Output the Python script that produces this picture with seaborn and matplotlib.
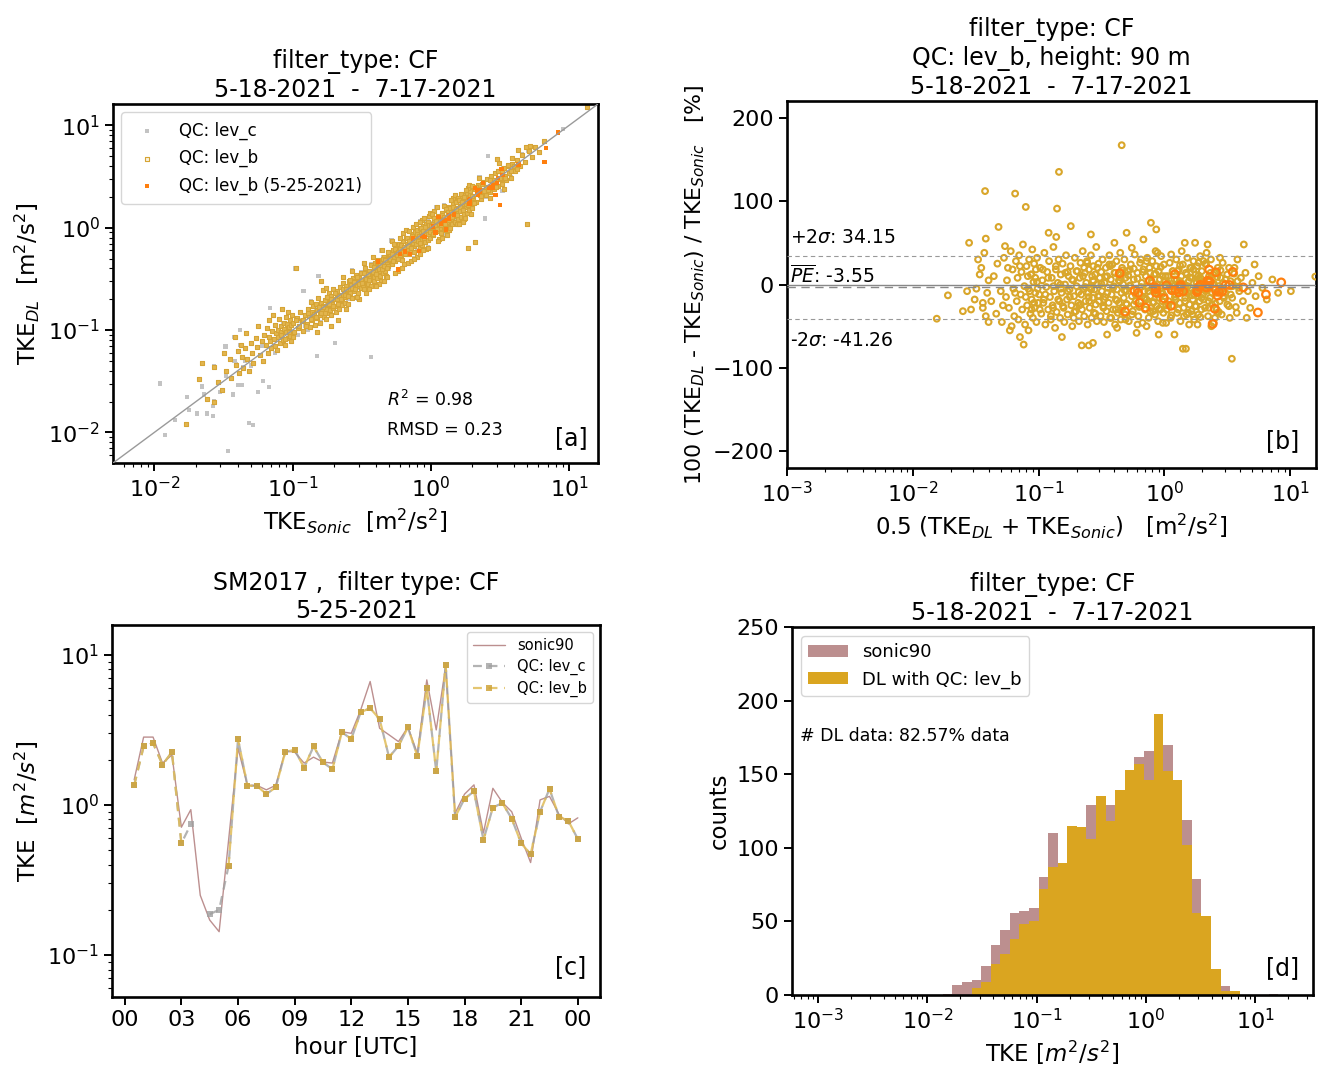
import numpy as np
import pandas as pd
import matplotlib
matplotlib.use("Agg")
import matplotlib.pyplot as plt
import matplotlib.transforms as mtransforms
from matplotlib.patches import Patch
import seaborn as sns

# ---------------------------------------------------------------- data
# panel [a]: TKE_Sonic vs TKE_DL, QC lev_b (pairs sonic, DL)
a_levb_sonic = [
    0.017, 0.021, 0.022, 0.024, 0.027, 0.027, 0.029, 0.031,
    0.032, 0.033, 0.035, 0.036, 0.038, 0.039, 0.040, 0.041, 0.042, 0.043, 0.044, 0.045, 0.046, 0.047, 0.048,
    0.050, 0.051, 0.052, 0.054, 0.055, 0.056, 0.058, 0.060, 0.061, 0.062,
    0.064, 0.065, 0.066, 0.067, 0.068, 0.069, 0.070, 0.071, 0.072, 0.073, 0.074, 0.075, 0.076, 0.077, 0.078,
    0.079, 0.080, 0.081, 0.082, 0.083, 0.084, 0.085, 0.086, 0.087, 0.088, 0.089, 0.090, 0.091, 0.092, 0.093,
    0.094, 0.095, 0.096, 0.097, 0.098, 0.099, 0.101, 0.103, 0.105, 0.107, 0.110, 0.113, 0.116, 0.119, 0.123,
    0.127, 0.129, 0.131, 0.133, 0.135, 0.137, 0.139, 0.141, 0.143, 0.145, 0.147, 0.149, 0.151, 0.153, 0.155,
    0.157, 0.159, 0.161, 0.163, 0.165, 0.167, 0.169, 0.171, 0.173, 0.175, 0.177, 0.179, 0.181, 0.183, 0.185,
    0.187, 0.189, 0.191, 0.193, 0.195, 0.197, 0.199, 0.202, 0.205, 0.208, 0.211, 0.214, 0.217, 0.220, 0.223,
    0.226, 0.229, 0.232, 0.235, 0.238, 0.241, 0.244, 0.247, 0.212, 0.160, 0.190, 0.230, 0.175, 0.245, 0.150,
    0.252, 0.256, 0.260, 0.264, 0.268, 0.272, 0.276, 0.280, 0.284, 0.288, 0.292, 0.296, 0.300, 0.305, 0.310,
    0.315, 0.320, 0.325, 0.330, 0.335, 0.340, 0.345, 0.350, 0.355, 0.360, 0.365, 0.370, 0.375, 0.380, 0.385,
    0.390, 0.395, 0.400, 0.405, 0.410, 0.415, 0.420, 0.425, 0.430, 0.435, 0.440, 0.445, 0.450, 0.455, 0.460,
    0.465, 0.470, 0.475, 0.480, 0.485, 0.490, 0.495, 0.300, 0.340, 0.420, 0.270, 0.380, 0.460, 0.330, 0.250,
    0.480, 0.360, 0.290, 0.440, 0.400,
    0.50, 0.51, 0.52, 0.53, 0.54, 0.55, 0.56, 0.57, 0.58, 0.59, 0.60, 0.61, 0.62, 0.63, 0.64, 0.65, 0.66,
    0.67, 0.68, 0.69, 0.70, 0.71, 0.72, 0.73, 0.74, 0.75, 0.76, 0.77, 0.78, 0.79, 0.80, 0.81, 0.82, 0.83,
    0.84, 0.85, 0.86, 0.87, 0.88, 0.89, 0.90, 0.91, 0.92, 0.93, 0.94, 0.95, 0.96, 0.97, 0.98, 0.99, 0.52,
    0.58, 0.63, 0.68, 0.74, 0.80, 0.86, 0.92, 0.97, 0.55, 0.66, 0.72, 0.78, 0.84, 0.90, 0.95, 0.60, 0.70,
    0.62, 0.88, 0.76, 0.54, 0.99, 0.83, 0.64,
    1.00, 1.02, 1.04, 1.06, 1.08, 1.10, 1.12, 1.14, 1.16, 1.18, 1.20, 1.22, 1.24, 1.26, 1.28, 1.30, 1.32,
    1.34, 1.36, 1.38, 1.40, 1.42, 1.44, 1.46, 1.48, 1.50, 1.52, 1.54, 1.56, 1.58, 1.60, 1.62, 1.64, 1.66,
    1.68, 1.70, 1.72, 1.74, 1.76, 1.78, 1.80, 1.82, 1.84, 1.86, 1.88, 1.90, 1.92, 1.94, 1.96, 1.98, 1.05,
    1.15, 1.25, 1.35, 1.45, 1.55, 1.65, 1.75, 1.85, 1.95, 1.10, 1.30, 1.50, 1.70, 1.90, 1.20, 1.40, 1.60,
    1.80, 1.12, 1.38, 1.58, 1.78, 1.98, 1.02, 1.87, 2.10,
    2.02, 2.08, 2.14, 2.20, 2.26, 2.32, 2.38, 2.44, 2.50, 2.56, 2.62, 2.68, 2.74, 2.80, 2.86, 2.92, 2.98,
    3.05, 3.12, 3.20, 3.28, 3.36, 3.44, 3.52, 3.60, 3.70, 3.80, 3.90, 2.25, 2.70, 3.10, 3.40, 3.85, 3.00,
    4.05, 4.20, 4.40, 4.60, 4.80, 5.00, 5.10, 5.40, 5.70, 6.10, 4.30, 6.60, 4.90, 5.20, 13.5,
]
a_levb_dl = [
    0.012, 0.033, 0.048, 0.021, 0.044, 0.020, 0.031, 0.026,
    0.059, 0.040, 0.052, 0.034, 0.085, 0.046, 0.062, 0.038, 0.071, 0.055, 0.043, 0.066, 0.094, 0.052, 0.040,
    0.075, 0.060, 0.048, 0.083, 0.068, 0.110, 0.057, 0.078, 0.050, 0.090,
    0.071, 0.105, 0.060, 0.086, 0.125, 0.078, 0.066, 0.098, 0.140, 0.082, 0.070, 0.112, 0.093, 0.064, 0.101,
    0.085, 0.128, 0.074, 0.110, 0.095, 0.160, 0.080, 0.118, 0.102, 0.072, 0.135, 0.096, 0.115, 0.083, 0.150,
    0.106, 0.088, 0.125, 0.112, 0.078, 0.140, 0.118, 0.095, 0.400, 0.130, 0.105, 0.150, 0.122, 0.098, 0.140,
    0.115, 0.160, 0.138, 0.108, 0.190, 0.150, 0.125, 0.170, 0.135, 0.112, 0.180, 0.158, 0.130, 0.205, 0.165,
    0.140, 0.118, 0.185, 0.152, 0.245, 0.170, 0.135, 0.195, 0.160, 0.128, 0.210, 0.175, 0.148, 0.230, 0.188,
    0.158, 0.140, 0.215, 0.180, 0.165, 0.250, 0.200, 0.172, 0.150, 0.240, 0.205, 0.180, 0.160, 0.265, 0.220,
    0.195, 0.175, 0.290, 0.240, 0.210, 0.185, 0.270, 0.225, 0.125, 0.300, 0.110, 0.330, 0.260, 0.160, 0.095,
    0.250, 0.300, 0.228, 0.275, 0.205, 0.320, 0.262, 0.240, 0.300, 0.345, 0.270, 0.230, 0.320, 0.285, 0.260,
    0.365, 0.305, 0.275, 0.250, 0.400, 0.330, 0.300, 0.280, 0.380, 0.340, 0.310, 0.270, 0.430, 0.360, 0.330,
    0.300, 0.450, 0.385, 0.350, 0.320, 0.480, 0.410, 0.375, 0.340, 0.300, 0.450, 0.400, 0.365, 0.520, 0.440,
    0.410, 0.375, 0.340, 0.500, 0.455, 0.420, 0.560, 0.200, 0.230, 0.280, 0.380, 0.520, 0.300, 0.450, 0.180,
    0.330, 0.250, 0.210, 0.600, 0.270,
    0.48, 0.56, 0.44, 0.60, 0.52, 0.47, 0.66, 0.58, 0.50, 0.70, 0.62, 0.54, 0.48, 0.74, 0.65, 0.58, 0.80,
    0.70, 0.62, 0.55, 0.78, 0.68, 0.60, 0.86, 0.75, 0.66, 0.58, 0.90, 0.80, 0.70, 0.95, 0.84, 0.74, 0.64,
    1.00, 0.88, 0.78, 0.68, 1.05, 0.93, 0.82, 0.72, 1.10, 0.98, 0.86, 0.76, 1.15, 1.02, 0.90, 0.80, 0.75,
    0.38, 0.88, 0.45, 1.02, 0.52, 1.20, 0.62, 1.30, 0.36, 0.95, 0.47, 1.08, 0.56, 1.25, 0.64, 0.80, 0.92,
    0.40, 0.60, 0.50, 0.70, 1.38, 1.15, 0.44,
    0.94, 1.10, 0.85, 1.20, 1.02, 0.92, 1.30, 1.12, 1.00, 0.88, 1.40, 1.20, 1.08, 0.95, 1.50, 1.28, 1.15,
    1.02, 1.60, 1.38, 1.22, 1.08, 1.70, 1.45, 1.30, 1.15, 1.78, 1.55, 1.38, 1.22, 1.88, 1.62, 1.45, 1.28,
    1.98, 1.72, 1.52, 1.35, 2.08, 1.80, 1.60, 1.40, 2.20, 1.90, 1.68, 1.48, 2.30, 2.00, 1.75, 1.55, 1.45,
    0.78, 1.65, 0.95, 1.95, 1.08, 2.15, 1.22, 2.45, 1.35, 1.60, 0.85, 2.10, 1.15, 2.60, 0.80, 1.85, 1.10,
    2.35, 0.74, 1.00, 1.95, 1.25, 2.55, 1.35, 0.63, 0.73,
    1.95, 2.40, 1.80, 2.60, 2.10, 1.90, 2.80, 2.35, 2.10, 3.00, 2.50, 2.25, 3.20, 2.65, 2.40, 3.40, 2.85,
    2.55, 3.60, 3.00, 2.70, 3.85, 3.20, 2.90, 4.00, 3.40, 3.10, 4.20, 3.10, 1.95, 4.30, 2.40, 4.80, 4.70,
    3.60, 4.60, 4.00, 5.20, 4.40, 1.08, 5.60, 4.90, 6.20, 5.50, 5.80, 7.00, 6.10, 6.30, 15.0,
]
# dense core of the lev_b cloud along the 1:1 line
a_core_sonic = [
    0.082, 0.088, 0.094, 0.100, 0.106, 0.112, 0.118, 0.124, 0.130, 0.136, 0.142, 0.148, 0.154, 0.160,
    0.166, 0.172, 0.178, 0.184, 0.190, 0.196, 0.203, 0.210, 0.217, 0.224, 0.231, 0.238, 0.245, 0.252,
    0.260, 0.268, 0.276, 0.284, 0.292, 0.300, 0.310, 0.320, 0.330, 0.340, 0.350, 0.360, 0.370, 0.380,
    0.390, 0.400, 0.410, 0.420, 0.430, 0.440, 0.450, 0.460, 0.470, 0.480, 0.490, 0.505, 0.520, 0.535,
    0.550, 0.565, 0.580, 0.595, 0.610, 0.625, 0.640, 0.655, 0.670, 0.685, 0.700, 0.715, 0.730, 0.745,
    0.760, 0.775, 0.790, 0.805, 0.820, 0.835, 0.850, 0.865, 0.880, 0.895, 0.910, 0.925, 0.940, 0.955,
    0.970, 0.985, 1.01, 1.03, 1.05, 1.07, 1.09, 1.11, 1.13, 1.15, 1.17, 1.19, 1.21, 1.23, 1.25, 1.27,
    1.29, 1.31, 1.33, 1.35, 1.37, 1.39, 1.41, 1.43, 1.45, 1.47, 1.51, 1.55, 1.59, 1.63, 1.67, 1.71,
    1.75, 1.79, 1.83, 1.87, 1.91, 1.95, 2.00, 2.06, 2.12, 2.18, 2.24, 2.30, 2.36, 2.42, 2.50, 2.58,
    2.66, 2.75, 2.85, 2.95, 3.05, 3.15, 3.30, 3.45, 3.60, 3.80, 4.00, 4.20,
]
a_core_dl = [
    0.090, 0.081, 0.096, 0.085, 0.125, 0.109, 0.125, 0.109, 0.147, 0.129, 0.142, 0.133, 0.169, 0.147,
    0.169, 0.146, 0.210, 0.178, 0.201, 0.172, 0.229, 0.200, 0.217, 0.202, 0.254, 0.219, 0.250, 0.214,
    0.307, 0.260, 0.293, 0.250, 0.330, 0.285, 0.310, 0.288, 0.363, 0.313, 0.357, 0.306, 0.437, 0.369,
    0.413, 0.352, 0.463, 0.399, 0.430, 0.396, 0.495, 0.423, 0.479, 0.408, 0.578, 0.490, 0.551, 0.471,
    0.622, 0.537, 0.580, 0.536, 0.671, 0.575, 0.653, 0.557, 0.791, 0.664, 0.742, 0.629, 0.825, 0.708,
    0.760, 0.698, 0.869, 0.741, 0.836, 0.710, 1.003, 0.839, 0.933, 0.788, 1.028, 0.879, 0.940, 0.860,
    1.067, 0.906, 1.030, 0.876, 1.239, 1.038, 1.155, 0.977, 1.277, 1.093, 1.170, 1.071, 1.331, 1.132,
    1.275, 1.080, 1.522, 1.271, 1.410, 1.188, 1.548, 1.321, 1.410, 1.287, 1.595, 1.352, 1.540, 1.318,
    1.876, 1.581, 1.770, 1.505, 1.978, 1.701, 1.830, 1.683, 2.101, 1.794, 2.040, 1.751, 2.502, 2.115,
    2.374, 2.024, 2.667, 2.299, 2.500, 2.322, 2.926, 2.530, 2.907, 2.508, 3.599, 3.056, 3.498, 3.036,
    4.068, 3.610, 4.000, 3.780,
]
# points that pass only QC lev_c (grey)
a_levc_sonic = [
    0.011, 0.0119, 0.014, 0.0171, 0.0178, 0.0204, 0.024, 0.0228, 0.0267, 0.0267, 0.034, 0.048, 0.052,
    0.037, 0.0327, 0.0416, 0.033, 0.040, 0.043, 0.056, 0.067, 0.061, 0.069, 0.091, 0.12, 0.150, 0.154,
    0.204, 0.27, 0.369, 2.47, 3.30, 2.60, 9.1, 0.045, 0.050, 0.060, 0.075, 0.090, 0.11, 0.13, 0.16,
    0.20, 0.25, 0.50, 0.80, 1.30, 2.50, 3.50, 0.022, 0.030, 0.038,
]
a_levc_dl = [
    0.030, 0.0095, 0.0132, 0.022, 0.0166, 0.0153, 0.0153, 0.0234, 0.018, 0.0144, 0.0066, 0.0123, 0.0118,
    0.0234, 0.069, 0.101, 0.036, 0.029, 0.029, 0.025, 0.0275, 0.032, 0.164, 0.101, 0.24, 0.056, 0.34,
    0.075, 0.39, 0.054, 1.23, 2.30, 5.00, 9.3, 0.050, 0.045, 0.070, 0.060, 0.070, 0.090, 0.100, 0.120,
    0.160, 0.200, 0.40, 0.60, 1.10, 2.00, 3.00, 0.028, 0.025, 0.050,
]
a_r2_text = "$R^2$ = 0.98"
a_rmsd_text = "RMSD = 0.23"

# panel [b]: mean TKE vs percentage error (QC lev_b)
b_mean = [
    0.0155, 0.019, 0.025, 0.029, 0.028, 0.032, 0.034, 0.036, 0.038, 0.0375, 0.033, 0.039, 0.031, 0.036,
    0.040, 0.038, 0.027, 0.035, 0.040, 0.037,
    0.048, 0.054, 0.065, 0.079, 0.071, 0.076, 0.042, 0.044, 0.046, 0.047, 0.050, 0.051, 0.053, 0.055,
    0.056, 0.058, 0.060, 0.061, 0.062, 0.063, 0.064, 0.066, 0.067, 0.068, 0.069, 0.070, 0.072, 0.073,
    0.074, 0.075, 0.077, 0.078, 0.080, 0.081, 0.082, 0.083, 0.084, 0.085, 0.086, 0.087, 0.088, 0.089,
    0.090, 0.091, 0.092, 0.093, 0.094, 0.095, 0.096, 0.097, 0.098, 0.099, 0.052, 0.057, 0.059, 0.065,
    0.071, 0.079, 0.088, 0.094,
    0.145, 0.140, 0.138, 0.153, 0.220, 0.250, 0.270, 0.120, 0.180, 0.260,
    0.101, 0.103, 0.105, 0.107, 0.109, 0.111, 0.113, 0.115, 0.117, 0.119, 0.121, 0.123, 0.125, 0.127,
    0.129, 0.131, 0.133, 0.135, 0.137, 0.139, 0.142, 0.144, 0.146, 0.148, 0.150, 0.152, 0.155, 0.158,
    0.160, 0.162, 0.165, 0.168, 0.170, 0.173, 0.176, 0.179, 0.182, 0.185, 0.188, 0.191, 0.194, 0.197,
    0.200, 0.203, 0.206, 0.209, 0.212, 0.215, 0.218, 0.221, 0.224, 0.227, 0.230, 0.233, 0.236, 0.239,
    0.242, 0.245, 0.248, 0.251, 0.254, 0.257, 0.260, 0.263, 0.266, 0.269, 0.272, 0.275, 0.278, 0.281,
    0.284, 0.287, 0.290, 0.293, 0.296, 0.299, 0.110, 0.130, 0.150, 0.170, 0.190, 0.210, 0.230, 0.250, 0.270,
    0.457, 0.78, 0.86, 0.68, 0.35, 0.60, 0.50, 0.90, 0.40,
    0.302, 0.306, 0.310, 0.314, 0.318, 0.322, 0.326, 0.330, 0.334, 0.338, 0.342, 0.346, 0.350, 0.355,
    0.360, 0.365, 0.370, 0.375, 0.380, 0.385, 0.390, 0.395, 0.400, 0.405, 0.410, 0.415, 0.420, 0.425,
    0.430, 0.435, 0.440, 0.445, 0.450, 0.455, 0.460, 0.465, 0.470, 0.475, 0.480, 0.485, 0.490, 0.495,
    0.50, 0.51, 0.52, 0.53, 0.54, 0.55, 0.56, 0.57, 0.58, 0.59, 0.60, 0.61, 0.62, 0.63, 0.64, 0.65,
    0.66, 0.67, 0.68, 0.69, 0.70, 0.71, 0.72, 0.73, 0.74, 0.75, 0.76, 0.77, 0.78, 0.79, 0.80, 0.81,
    0.82, 0.83, 0.84, 0.85, 0.86, 0.87, 0.88, 0.89, 0.90, 0.91, 0.92, 0.93, 0.94, 0.95, 0.96, 0.97,
    0.98, 0.99, 0.33, 0.37, 0.41, 0.45, 0.49, 0.53, 0.57, 0.61, 0.65, 0.69, 0.73, 0.77, 0.81, 0.85,
    0.89, 0.93, 0.97, 0.42, 0.55, 0.72, 0.88,
    1.45, 1.75, 1.40, 1.48, 2.20, 1.20,
    1.00, 1.02, 1.04, 1.06, 1.08, 1.10, 1.12, 1.14, 1.16, 1.18, 1.20, 1.22, 1.24, 1.26, 1.28, 1.30,
    1.32, 1.34, 1.36, 1.38, 1.40, 1.42, 1.44, 1.46, 1.48, 1.50, 1.52, 1.54, 1.56, 1.58, 1.60, 1.62,
    1.64, 1.66, 1.68, 1.70, 1.72, 1.74, 1.76, 1.78, 1.80, 1.82, 1.84, 1.86, 1.88, 1.90, 1.92, 1.94,
    1.96, 1.98, 2.02, 2.06, 2.10, 2.14, 2.18, 2.22, 2.26, 2.30, 2.34, 2.38, 2.42, 2.46, 2.50, 2.55,
    2.60, 2.65, 2.70, 2.75, 2.80, 2.85, 2.90, 2.95, 1.03, 1.13, 1.23, 1.33, 1.43, 1.53, 1.63, 1.73,
    1.83, 1.93, 2.04, 2.24, 2.44, 2.64, 2.84, 1.07, 1.27, 1.47, 1.67, 1.87, 2.12, 2.52, 2.92, 1.17,
    1.57, 1.97, 2.36, 2.76, 1.37, 2.16,
    3.43, 4.27, 10.1, 3.05, 3.15, 3.25, 3.35, 3.45, 3.60, 3.75, 3.90, 4.05, 4.20, 4.40, 4.60, 4.80,
    5.00, 5.30, 5.60, 6.00, 6.50, 7.20, 8.00, 3.30, 3.80, 4.50, 5.20, 15.8,
    # dense core
    0.083, 0.087, 0.092, 0.097, 0.102, 0.108, 0.113, 0.119, 0.125, 0.131, 0.137, 0.143, 0.149, 0.156,
    0.163, 0.170, 0.177, 0.184, 0.192, 0.200, 0.208, 0.216, 0.225, 0.234, 0.243, 0.252, 0.262, 0.272,
    0.282, 0.293, 0.304, 0.315, 0.327, 0.339, 0.351, 0.364, 0.377, 0.391, 0.405, 0.419, 0.434, 0.449,
    0.465, 0.481, 0.498, 0.515, 0.533, 0.551, 0.570, 0.590, 0.610, 0.631, 0.652, 0.674, 0.697, 0.720,
    0.744, 0.769, 0.795, 0.821, 0.848, 0.876, 0.905, 0.935, 0.966, 0.998, 1.03, 1.065, 1.10, 1.135,
    1.17, 1.21, 1.25, 1.29, 1.33, 1.37, 1.415, 1.46, 1.505, 1.55, 1.60, 1.65, 1.70, 1.755, 1.81, 1.865,
    1.925, 1.985, 2.05, 2.11, 2.18, 2.25, 2.32, 2.39, 2.465, 2.54, 2.62, 2.70, 2.79, 2.88, 2.97, 3.06,
    3.16, 3.26, 3.36, 3.47, 3.58, 3.69, 3.81, 3.93,
]
b_pe = [
    -41, -13, -32, -30, 50, -5, 12, -22, 55, 112, 30, -10, -18, -28, 5, -38, -8, 20, -45, 38,
    69, 46, 109, 93, -63, -72, -20, 10, -35, 25, -8, -45, 32, -15, 5, -28, 40, -50, 18, -5, -38, 28,
    -20, 8, -42, 35, -12, 15, -30, 48, -2, -48, 22, -25, 10, -55, 30, -8, -35, 12, -18, 42, -40, 3,
    25, -28, -10, 18, -45, 32, -5, -22, -25, 20, -55, -10, 22, -15, -30, 8,
    135, 91, 57, -63, -73, -73, -70, 62, 70, 60,
    -12, 20, -35, 5, -22, 38, -48, -3, 15, -30, 28, -15, -42, 8, -25, 45, -8, -52, 18, -33, 2, 30,
    -20, -40, 12, -10, 25, -28, -45, 0, 35, -18, -36, 10, -6, 22, -25, -50, 5, -14, 32, -32, -2, 16,
    -22, -44, 8, 26, -12, -30, 40, -5, -38, 14, -20, 2, 28, -48, -10, 18, -28, -3, 35, -40, 10, -16,
    22, -34, -6, 12, -24, 45, -44, 0, -14, 25, -18, -28, -5, 15, -40, -25, 20, -15, 5,
    167, 74, 66, 54, -60, -58, 62, -60, 50,
    -20, 8, -38, 15, -8, 30, -26, -45, 2, -15, 20, -32, 10, -4, -22, 35, -40, 6, -12, 24, -30, -2,
    14, -48, -18, 28, -6, -34, 12, -22, 4, 38, -42, -10, 20, -28, 0, -16, 30, -36, 8, -8,
    -24, 16, -44, -2, 24, -14, -32, 6, 36, -20, -6, 14, -38, -12, 26, -26, 2, -46, 18, -8, -30, 10,
    -18, 32, -4, -40, 20, -14, -28, 4, 28, -22, -6, 12, -36, -10, 22, -26, 0, -44, 16, -16, 6, -30,
    34, -8, -20, 10, -34, 24, -18, 22, -30, 8, -42, 18, -24, -48, 30, -16, -2, 14, -32, 40, -12, -4,
    -46, -52, 44, -50, 38,
    50, 50, -77, -77, 48, -60,
    -14, 10, -30, 2, -20, 26, -40, -6, 16, -26, 6, -12, 30, -34, -2, 18, -22, -44, 10, -8, 24, -28,
    0, -16, 14, -36, 32, -10, 4, -24, 20, -4, -32, 8, -18, 28, -42, -8, 12, -26, 2, 22, -14, -36, 6,
    -20, 34, -6, -30, 16, -12, 4, -28, 24, -4, -38, 10, -16, 30, -24, 0, -46, 14, -10, -30, 20, -2,
    -20, 8, -36, 26, -14, -46, 36, -18, 4, -38, -2, 20, -12, -48, 8, 28, -20, 12, -34, -6, -24, 16,
    -10, -36, 26, -8, -40, 2, -2, -48, -16, -50, 32, 40, 38,
    -89, 48, -8, -10, 12, -26, 4, -16, 20, -34, -4, 8, -20, 14, -8, -28, 2, -14, 10, -4, -18, 6, -10,
    -40, 30, -40, 24, 9.5,
    # dense core
    -5, 12, -22, 3, -30, 18, -12, 8, -38, -2, 22, -18, 0, -26, 14, -8,
    -15, 6, -33, 16, -9, -24, 10, -3, 26, -20, -6, 4, -35, 20, -14, 1,
    -28, 9, -10, 24, -40, -4, 14, -19, 5, -31, 17, -7, -23, 11, -1, -36,
    19, -12, 7, -27, -3, 15, -17, 28, -8, -32, 2, -21, 13, -6, -29, 21,
    -11, 4, -25, 10, -2, -37, 16, -15, 6, -30, 23, -9, 0, -20, 12, -34,
    8, -13, 18, -26, -4, 11, -39, 3, -18, 25, -7, -28, 14, -10, 1, -23,
    9, -33, 17, -5, -16, 6, -24, 20, -12, -2, 13, -27, 4, -8,
]
b_plus2sigma = 34.15
b_mean_pe = -3.55
b_minus2sigma = -41.26

# panel [c]: 5-25-2021 time series, 30-min values (hour of day)
c_hour = [0.5, 1.0, 1.5, 2.0, 2.5, 3.0, 3.5, 4.0, 4.5, 5.0, 5.5, 6.0, 6.5, 7.0, 7.5, 8.0,
          8.5, 9.0, 9.5, 10.0, 10.5, 11.0, 11.5, 12.0, 12.5, 13.0, 13.5, 14.0, 14.5, 15.0, 15.5, 16.0,
          16.5, 17.0, 17.5, 18.0, 18.5, 19.0, 19.5, 20.0, 20.5, 21.0, 21.5, 22.0, 22.5, 23.0, 23.5, 24.0]
c_sonic = [1.47, 2.83, 2.83, 1.90, 2.15, 0.71, 0.93, 0.25, 0.171, 0.143, 0.58, 2.39, 1.35, 1.35, 1.26, 1.35,
           2.28, 2.25, 1.90, 2.08, 1.93, 1.90, 3.07, 3.00, 4.30, 6.64, 3.24, 2.93, 2.64, 3.30, 2.20, 6.81,
           3.16, 8.36, 0.88, 1.18, 1.36, 0.65, 1.29, 1.04, 0.90, 0.60, 0.413, 1.08, 1.14, 0.867, 0.747, 0.82]
c_lev_c = [1.35, 2.45, 2.58, 1.85, 2.25, 0.555, 0.743, np.nan, 0.187, 0.200, 0.392, 2.74, 1.34, 1.34, 1.18, 1.31,
           2.25, 2.33, 1.77, 2.45, 1.92, 1.73, 3.05, 2.75, 4.15, 4.41, 3.73, 2.08, 2.47, 3.28, 2.12, 6.00,
           1.67, 8.57, 0.83, 1.10, 1.23, 0.585, 0.96, 1.03, 0.81, 0.555, 0.469, 0.90, 1.28, 0.836, 0.782, 0.593]
c_lev_b = [1.35, 2.45, 2.58, 1.85, 2.25, 0.555, np.nan, np.nan, np.nan, np.nan, 0.392, 2.74, 1.34, 1.34, 1.18, 1.31,
           2.25, 2.33, 1.77, 2.45, 1.92, 1.73, 3.05, 2.75, 4.15, 4.41, 3.73, 2.08, 2.47, 3.28, 2.12, 6.00,
           1.67, 8.57, 0.83, 1.10, 1.23, 0.585, 0.96, 1.03, 0.81, 0.555, 0.469, 0.90, 1.28, 0.836, 0.782, 0.593]
c_hour_ticks = [0, 3, 6, 9, 12, 15, 18, 21, 24]
c_hour_labels = ["00", "03", "06", "09", "12", "15", "18", "21", "00"]

# panel [d]: histogram counts in log-spaced bins (bin edges 10^-3 .. 10^2, 57 bins)
d_bin_edges_log10 = np.linspace(-3, 2, 58)
d_first_bin = 13
d_sonic_counts = [1, 7, 9, 10, 20, 34, 44, 56, 57, 59, 80, 110, 85, 110, 110, 129, 130, 129, 136, 150,
                  162, 166, 185, 170, 140, 119, 79, 50, 15, 6, 2, 0, 0, 0, 1]
d_dl_counts = [0, 0, 0, 5, 9, 21, 28, 38, 48, 50, 72, 87, 90, 115, 114, 106, 135, 118, 139, 153,
               157, 146, 191, 152, 146, 102, 56, 54, 18, 3, 3, 0, 0, 0, 0]
d_note = "# DL data: 82.57% data"

# ---------------------------------------------------------------- style
sns.set_theme(style="ticks")
plt.rcParams['font.family'] = ['DejaVu Sans']
plt.rcParams['mathtext.fontset'] = 'dejavusans'
for k in ["text.color", "axes.labelcolor", "xtick.color", "ytick.color", "axes.edgecolor"]:
    plt.rcParams[k] = "black"

GOLD = "#daa520"
GOLD_EDGE = "#d6a435"
GOLD_FACE = "#e2b54e"
CIRCLE = "#d9a62a"
ORANGE = "#ff7f0e"
GREY = "#c3c3c3"
ROSY = "#bc8f8f"

FS_TICK = 16
FS_LAB = 16.5
FS_TITLE = 17

fig = plt.figure(figsize=(13.18, 10.65), dpi=100)
W, H = 1318.0, 1065.0


def add_ax(l, r, t, b):
    return fig.add_axes([l / W, 1 - b / H, (r - l) / W, (b - t) / H])


def style(ax):
    for sp in ax.spines.values():
        sp.set_linewidth(1.9)
        sp.set_color("black")
        sp.set_visible(True)
    ax.tick_params(which="major", direction="out", length=6, width=1.4, labelsize=FS_TICK,
                   colors="black")
    ax.tick_params(which="minor", direction="out", length=3, width=0.8, colors="black")


axA = add_ax(113, 598, 104, 463)
axB = add_ax(787, 1316, 101, 468)
axC = add_ax(112, 600, 625, 997)
axD = add_ax(792, 1313, 627, 995)

# ---------------------------------------------------------------- panel a
levb_x = list(a_levb_sonic) + list(a_core_sonic)
levb_y = list(a_levb_dl) + list(a_core_dl)
grey_x = list(a_levc_sonic) + levb_x
grey_y = list(a_levc_dl) + levb_y
sns.scatterplot(x=grey_x, y=grey_y, marker="s", s=9, color=GREY, edgecolor="none", linewidth=0,
                label="QC: lev_c", ax=axA)
sns.scatterplot(x=levb_x, y=levb_y, marker="s", s=10, color=GOLD, facecolor=GOLD_FACE,
                edgecolor=GOLD_EDGE, linewidth=0.8, label="QC: lev_b", ax=axA)
day_mask = ~np.isnan(np.array(c_lev_b))
sns.scatterplot(x=np.array(c_sonic)[day_mask], y=np.array(c_lev_b)[day_mask], marker="s", s=10,
                color=ORANGE, edgecolor="none", linewidth=0, label="QC: lev_b (5-25-2021)", ax=axA)
axA.set_xscale("log")
axA.set_yscale("log")
lims = (10 ** -2.3, 10 ** 1.21)
axA.set_xlim(lims)
axA.set_ylim(lims)
axA.axline((0.01, 0.01), (1.0, 1.0), color="#9a9a9a", lw=1.0, zorder=5)
axA.set_xlabel("TKE$_{Sonic}$  [m$^2$/s$^2$]", fontsize=FS_LAB)
axA.set_ylabel("TKE$_{DL}$  [m$^2$/s$^2$]", fontsize=FS_LAB)
axA.set_title("filter_type: CF\n5-18-2021  -  7-17-2021", fontsize=FS_TITLE, pad=5)
legA = axA.legend(loc="upper left", fontsize=12, markerscale=1.0, handletextpad=0.9,
                  borderpad=0.55, labelspacing=0.55, frameon=True)
legA.get_frame().set_edgecolor("#cccccc")
legA.legend_handles[1].set_facecolor("#fbf3df")
axA.text(0.565, 0.175, a_r2_text, transform=axA.transAxes, fontsize=12.5, va="center", ha="left")
axA.text(0.565, 0.092, a_rmsd_text, transform=axA.transAxes, fontsize=12.5, va="center", ha="left")
axA.text(0.944, 0.07, "[a]", transform=axA.transAxes, fontsize=17, va="center", ha="center")
style(axA)

# ---------------------------------------------------------------- panel b
sns.scatterplot(x=b_mean, y=b_pe, marker="o", s=17, color=CIRCLE, facecolor="none",
                edgecolor=CIRCLE, linewidth=1.5, ax=axB, zorder=3)
c_son = np.array(c_sonic)[day_mask]
c_dl = np.array(c_lev_b)[day_mask]
sns.scatterplot(x=0.5 * (c_son + c_dl), y=100 * (c_dl - c_son) / c_son, marker="o", s=30,
                color=ORANGE, facecolor="none", edgecolor=ORANGE, linewidth=1.6, ax=axB, zorder=4)
axB.set_xscale("log")
axB.set_xlim(1e-3, 16)
axB.set_ylim(-220, 220)
axB.set_yticks([-200, -100, 0, 100, 200])
axB.axhline(0, color="#888888", lw=1.0, zorder=5)
axB.axhline(b_mean_pe, color="#888888", lw=1.0, ls=(0, (6, 4)), zorder=5)
axB.axhline(b_plus2sigma, color="#999999", lw=0.8, ls=(0, (4, 3)), zorder=5)
axB.axhline(b_minus2sigma, color="#999999", lw=0.8, ls=(0, (4, 3)), zorder=5)
trB = mtransforms.blended_transform_factory(axB.transAxes, axB.transData)
axB.text(0.005, 56, "+2$\\sigma$: %.2f" % b_plus2sigma, transform=trB, fontsize=13.5, va="center")
axB.text(0.005, 11, "$\\overline{PE}$: %.2f" % b_mean_pe, transform=trB, fontsize=13.5, va="center")
axB.text(0.005, -67, "-2$\\sigma$: %.2f" % b_minus2sigma, transform=trB, fontsize=13.5, va="center")
axB.set_xlabel("0.5 (TKE$_{DL}$ + TKE$_{Sonic}$)   [m$^2$/s$^2$]", fontsize=FS_LAB)
axB.set_ylabel("100 (TKE$_{DL}$ - TKE$_{Sonic}$) / TKE$_{Sonic}$   [%]", fontsize=15.8)
axB.set_title("filter_type: CF\nQC: lev_b, height: 90 m\n5-18-2021  -  7-17-2021",
              fontsize=FS_TITLE, pad=5)
axB.text(0.936, 0.074, "[b]", transform=axB.transAxes, fontsize=17, va="center", ha="center")
style(axB)

# ---------------------------------------------------------------- panel c
df_c = pd.DataFrame({"hour": c_hour, "sonic": c_sonic, "lev_c": c_lev_c, "lev_b": c_lev_b})


def segments(col):
    valid = df_c[col].notna().values
    seg_id = np.cumsum(~valid)
    out = []
    for sid in np.unique(seg_id[valid]):
        out.append(df_c[valid & (seg_id == sid)])
    return out


sns.lineplot(data=df_c, x="hour", y="sonic", color=ROSY, lw=1.0, ax=axC, label="sonic90",
             estimator=None, sort=False)
for i, seg in enumerate(segments("lev_c")):
    sns.lineplot(data=seg, x="hour", y="lev_c", color="#a0a0a0", lw=1.6, ls=(0, (4, 3)),
                 marker="s", markersize=4.5, markeredgewidth=0, alpha=0.8, ax=axC,
                 label="QC: lev_c" if i == 0 else None, estimator=None, sort=False)
for i, seg in enumerate(segments("lev_b")):
    sns.lineplot(data=seg, x="hour", y="lev_b", color="#e0bc58", lw=1.6, ls=(0, (4, 3)),
                 marker="s", markersize=4.5, markeredgewidth=0, markerfacecolor="#cfa43a",
                 alpha=0.85, ax=axC, label="QC: lev_b" if i == 0 else None, estimator=None, sort=False)
axC.set_yscale("log")
axC.set_ylim(0.0525, 15.8)
axC.set_xlim(-0.675, 25.175)
axC.set_xticks(c_hour_ticks)
axC.set_xticklabels(c_hour_labels)
axC.set_xlabel("hour [UTC]", fontsize=FS_LAB)
axC.set_ylabel("TKE  [$m^2/s^2$]", fontsize=FS_LAB)
axC.set_title("SM2017 ,  filter type: CF\n5-25-2021", fontsize=FS_TITLE, pad=5)
legC = axC.legend(loc="upper right", fontsize=10.5, handlelength=2.2, frameon=True,
                  borderpad=0.4, labelspacing=0.4)
legC.get_frame().set_edgecolor("#cccccc")
axC.text(0.939, 0.08, "[c]", transform=axC.transAxes, fontsize=17, va="center", ha="center")
style(axC)

# ---------------------------------------------------------------- panel d
edges = d_bin_edges_log10
idx = np.arange(d_first_bin, d_first_bin + len(d_sonic_counts))
centers = 10 ** (0.5 * (edges[idx] + edges[idx + 1]))
df_d = pd.DataFrame({"tke": centers, "sonic": d_sonic_counts, "dl": d_dl_counts})
bin_list = [float(e) for e in edges]
sns.histplot(data=df_d, x="tke", weights="sonic", bins=bin_list, log_scale=True, color=ROSY,
             alpha=1.0, linewidth=0, edgecolor="none", ax=axD)
sns.histplot(data=df_d, x="tke", weights="dl", bins=bin_list, log_scale=True, color=GOLD,
             alpha=1.0, linewidth=0, edgecolor="none", ax=axD)
axD.set_xlim(10 ** -3.24, 10 ** 1.53)
axD.set_ylim(0, 250)
axD.set_yticks([0, 50, 100, 150, 200, 250])
axD.set_xlabel("TKE [$m^2/s^2$]", fontsize=FS_LAB)
axD.set_ylabel("counts", fontsize=FS_LAB)
axD.set_title("filter_type: CF\n5-18-2021  -  7-17-2021", fontsize=FS_TITLE, pad=5)
handles = [Patch(facecolor=ROSY, edgecolor="none", label="sonic90"),
           Patch(facecolor=GOLD, edgecolor="none", label="DL with QC: lev_b")]
legD = axD.legend(handles=handles, loc="upper left", fontsize=13, handlelength=2.2,
                  frameon=True, borderpad=0.4)
legD.get_frame().set_edgecolor("#cccccc")
axD.text(0.015, 0.704, d_note, transform=axD.transAxes, fontsize=12.5, va="center", ha="left")
axD.text(0.942, 0.073, "[d]", transform=axD.transAxes, fontsize=17, va="center", ha="center")
style(axD)

fig.savefig("out.png", dpi=100)
